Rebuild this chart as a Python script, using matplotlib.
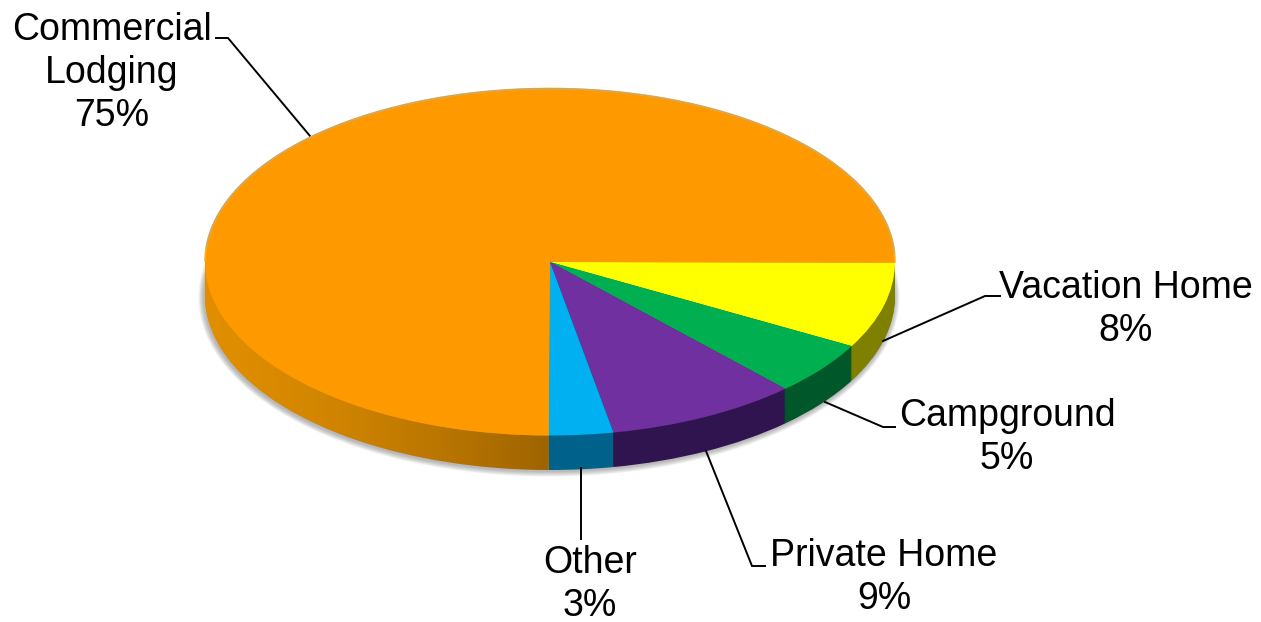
import numpy as np
import matplotlib
matplotlib.use("Agg")
import matplotlib.pyplot as plt
from matplotlib.patches import Ellipse, Polygon

categories = ["Vacation Home", "Campground", "Private Home", "Other", "Commercial\nLodging"]
values = [8, 5, 9, 3, 75]
pct_labels = ["8%", "5%", "9%", "3%", "75%"]
top_colors = ["#FFFF00", "#00B050", "#7030A0", "#00B0F0", "#FF9900"]
side_colors = ["#7F7F00", "#00582A", "#301450", "#00628A", "#E08E00"]

W, H = 1261, 622
CX, CY, RX, RY = 550.0, 262.0, 345.0, 173.5
DEPTH = 34.5


def X(px):
    return (px - CX) / RX


def Y(py):
    return (CY - py) / RY


plt.rcParams["font.family"] = ["Liberation Sans", "DejaVu Sans"]
fig = plt.figure(figsize=(W / 100, H / 100), dpi=100, facecolor="white")
ax = fig.add_axes([0, 0, 1, 1])

dy = DEPTH / RY
START = -0.2

# soft shadow
for i in range(8, 0, -1):
    ax.add_patch(Ellipse((X(CX - 1), Y(CY + DEPTH + 1)), 2 + 2 * i * 0.7 / RX, 2 + 2 * i * 0.7 / RY,
                         facecolor="#505050", edgecolor="none", alpha=0.06, zorder=1))

# extruded rim: stacked pies
for k, off in enumerate(np.linspace(dy, 0, 36)):
    w, _ = ax.pie(values, colors=side_colors, startangle=START, counterclock=False,
                  center=(0, -off), radius=1, frame=True,
                  wedgeprops=dict(linewidth=0, antialiased=True))
    for p in w:
        p.set_zorder(2)

# gradient over the orange rim
theta = np.radians(np.linspace(180, 270 + START, 200))
ax_x, ax_y = np.cos(theta), np.sin(theta)
poly_xy = np.vstack([np.c_[ax_x, ax_y], np.c_[ax_x[::-1], ax_y[::-1] - dy]])
clip = Polygon(poly_xy, closed=True, transform=ax.transData, facecolor="none", edgecolor="none")
ax.add_patch(clip)
grad = np.zeros((1, 256, 4))
grad[..., 3] = 0.30 * np.linspace(0, 1, 256) ** 1.4
im = ax.imshow(grad, extent=(X(205), X(552), Y(CY + 230), Y(CY - 10)), aspect="auto", zorder=3,
               interpolation="bilinear")
im.set_clip_path(clip)

# top face
wedges, _ = ax.pie(values, colors=top_colors, startangle=START, counterclock=False,
                   center=(0, 0), radius=1, frame=True, wedgeprops=dict(linewidth=0))
for p in wedges:
    p.set_zorder(5)

# thin rim highlight on the top face
t = np.radians(np.linspace(START - 360 * 0.25, START - 360, 400))
ax.plot(np.cos(t[t < np.radians(-180)]), np.sin(t[t < np.radians(-180)]), color="#FFB21E",
        lw=1.2, zorder=6, solid_capstyle="butt")
t2 = np.radians(np.linspace(3, 175, 200))
ax.plot(np.cos(t2), np.sin(t2), color="#B8A88A", lw=0.8, zorder=6)

# leader lines (pixel positions of the drawing, not data)
leaders = [
    [(216, 38), (228, 38), (310, 136)],
    [(1000, 296), (985, 296), (883, 341)],
    [(895, 427), (883, 427), (825, 402)],
    [(765, 566), (752, 566), (706, 451)],
    [(581, 468), (581, 539)],
]
for pts in leaders:
    pts = np.array(pts, dtype=float)
    ax.plot(X(pts[:, 0]), Y(pts[:, 1]), color="black", lw=1.4, zorder=4, solid_joinstyle="miter")

# labels
label_pos = [(1126, 288), (1007, 416), (884, 556), (590, 563), (112, 30)]
line_h = 43
for name, pct, (lx, ly) in zip(categories, pct_labels, label_pos):
    lines = name.split("\n") + [pct]
    for i, s in enumerate(lines):
        ax.text(X(lx), Y(ly + i * line_h), s, fontsize=27, color="black",
                ha="center", va="center", zorder=7)

ax.set_aspect("auto")
ax.set_xlim(X(0), X(W))
ax.set_ylim(Y(H), Y(0))
ax.set_xticks([])
ax.set_yticks([])
ax.set_frame_on(False)
fig.savefig("out.png", dpi=100, facecolor="white")
